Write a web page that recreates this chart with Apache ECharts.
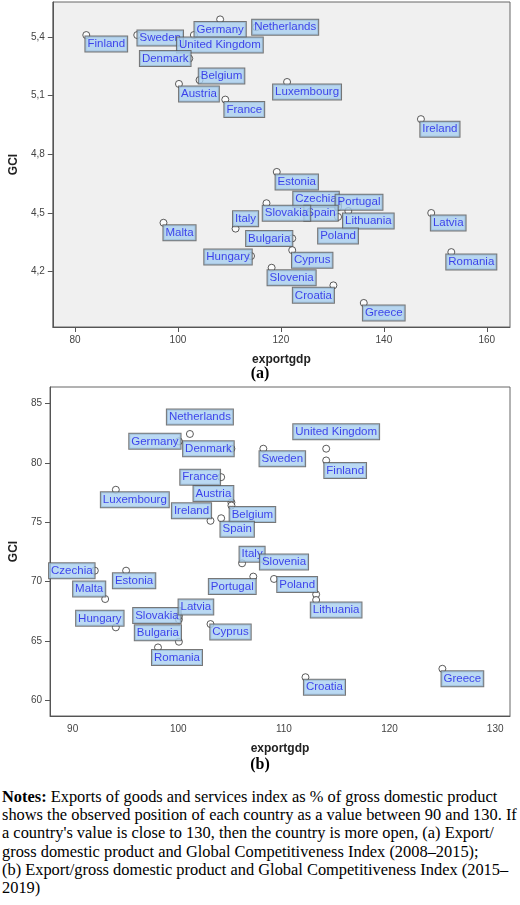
<!DOCTYPE html>
<html><head><meta charset="utf-8">
<script src="https://cdn.jsdelivr.net/npm/echarts@6/dist/echarts.min.js"></script>
<style>body{margin:0;background:#fff}#c{width:520px;height:788px}
#n{font-family:"Liberation Serif","Times New Roman",serif;font-size:16.4px;line-height:18.2px;margin:0 0 0 2px;width:515px;color:#000}</style>
</head><body><div id="c"></div>
<div id="n"><b>Notes:</b> Exports of goods and services index as % of gross domestic product shows the observed position of each country as a value between 90 and 130. If a country's value is close to 130, then the country is more open, (a) Export/ gross domestic product and Global Competitiveness Index (2008–2015);<br>(b) Export/gross domestic product and Global Competitiveness Index (2015–2019)</div>
<script>
const countriesA=["Finland","Sweden","Germany","United Kingdom","Netherlands","Denmark","Belgium","Austria","Luxembourg","France","Ireland","Estonia","Czechia","Portugal","Spain","Slovakia","Lithuania","Latvia","Poland","Malta","Italy","Bulgaria","Cyprus","Hungary","Romania","Slovenia","Croatia","Greece"];
const exportA=[82.2,92.1,108.2,103.1,115.2,102.2,104.2,100.2,121.2,109.2,147.2,119.2,131.1,131.1,131.1,117.2,133.1,149.2,131.1,97.2,111.2,122.2,122.2,114.2,153.1,118.2,130.2,136.1];
const gciA=[5.41,5.41,5.49,5.41,5.45,5.29,5.18,5.16,5.17,5.08,4.98,4.71,4.55,4.54,4.53,4.55,4.51,4.50,4.48,4.45,4.42,4.37,4.31,4.28,4.30,4.22,4.13,4.04];
const offA=[[20,9],[23,3],[0,10],[26,10],[29,0],[-24,0],[22,-4],[20,10],[20,10],[19,10],[19,10],[20,10],[-22,-4],[21,-3],[-17,6],[20,10],[20,10],[17,10],[0,19],[16,10],[10,-10],[-23,0],[20,10],[-23,1],[20,10],[20,10],[-20,10],[20,10]];
const countriesB=["Netherlands","Germany","Denmark","Sweden","United Kingdom","Finland","France","Luxembourg","Austria","Belgium","Ireland","Spain","Italy","Slovenia","Portugal","Poland","Lithuania","Czechia","Estonia","Malta","Hungary","Slovakia","Latvia","Bulgaria","Romania","Cyprus","Croatia","Greece"];
const exportB=[101.1,100.06,105.03,108.05,114.0,114.0,104.06,94.09,105.03,105.03,103.05,104.06,106.04,109.06,107.1,113.05,113.05,92.1,95.06,93.08,94.09,100.06,100.06,100.06,98.08,103.05,112.04,125.0];
const gciB=[82.44,81.82,81.2,81.2,81.2,80.21,78.8,77.74,76.67,76.41,75.12,75.34,71.54,70.22,70.42,68.92,68.45,70.92,70.92,68.53,66.14,66.81,67.09,64.93,64.45,66.42,61.94,62.65];
const offB=[[10,-17],[-24,0],[-23,0],[19,10],[10,-17],[19,10],[-21,0],[19,10],[-18,-9],[21,9],[-19,-10],[16,11],[10,-9],[10,-17],[-21,10],[-19,-10],[20,10],[-23,0],[8,10],[-16,-10],[-16,-9],[-22,-4],[17,-9],[-21,-9],[19,10],[20,8],[19,10],[20,10]];

const lab={show:true,position:'inside',backgroundColor:'#a9cff0',borderColor:'#555',borderWidth:1,color:'#1a1ae8',fontSize:11.5,fontFamily:'Liberation Sans, Arial',padding:[2,2,1,2]};
function pts(c,x,y,o){return c.map((n,i)=>({value:[x[i],y[i]],name:n,label:Object.assign({},lab,{formatter:n,offset:o[i]})}));}
const axName={fontWeight:'bold',fontSize:12,color:'#222',fontFamily:'Liberation Sans, Arial'};
const axLab={fontSize:10,color:'#444',fontFamily:'Liberation Sans, Arial'};
const line={show:true,lineStyle:{color:'#555'}};
const ch=echarts.init(document.getElementById('c'));
ch.setOption({animation:false,
 grid:[{left:39,top:2,width:471,height:325,show:true,backgroundColor:'#f0f0f0',borderColor:'#666',borderWidth:1},
       {left:48,top:387,width:462,height:329,show:true,backgroundColor:'#fff',borderColor:'#666',borderWidth:1}],
 xAxis:[{gridIndex:0,type:'value',min:75.7,max:164.5,interval:20,axisLabel:Object.assign({customValues:[80,100,120,140,160]},axLab),axisTick:{show:true,customValues:[80,100,120,140,160],lineStyle:{color:'#555'}},axisLine:line,splitLine:{show:false},name:'exportgdp',nameLocation:'middle',nameGap:27,nameTextStyle:axName},
        {gridIndex:1,type:'value',min:87.86,max:131.4,axisLabel:Object.assign({customValues:[90,100,110,120,130]},axLab),axisTick:{show:false},axisLine:line,splitLine:{show:false},name:'exportgdp',nameLocation:'middle',nameGap:27,nameTextStyle:axName}],
 yAxis:[{gridIndex:0,type:'value',min:3.917,max:5.579,axisLabel:Object.assign({customValues:[4.2,4.5,4.8,5.1,5.4],formatter:v=>v.toFixed(1).replace('.',',')},axLab),axisTick:{show:true,customValues:[4.2,4.5,4.8,5.1,5.4],lineStyle:{color:'#555'}},axisLine:line,splitLine:{show:false},name:'GCI',nameLocation:'middle',nameGap:24,nameTextStyle:axName},
        {gridIndex:1,type:'value',min:58.67,max:86.4,axisLabel:Object.assign({customValues:[60,65,70,75,80,85]},axLab),axisTick:{show:true,customValues:[60,65,70,75,80,85],lineStyle:{color:'#555'}},axisLine:line,splitLine:{show:false},name:'GCI',nameLocation:'middle',nameGap:30,nameTextStyle:axName}],
 title:[{text:'(a)',left:'center',top:361,textStyle:{fontFamily:'Liberation Serif',fontSize:16,fontWeight:'bold',color:'#000'}},
        {text:'(b)',left:'center',top:752,textStyle:{fontFamily:'Liberation Serif',fontSize:16,fontWeight:'bold',color:'#000'}}],
 series:[{type:'scatter',xAxisIndex:0,yAxisIndex:0,symbol:'circle',symbolSize:7,itemStyle:{color:'#fff',borderColor:'#333',borderWidth:1},data:pts(countriesA,exportA,gciA,offA)},
         {type:'scatter',xAxisIndex:1,yAxisIndex:1,symbol:'circle',symbolSize:7,itemStyle:{color:'#fff',borderColor:'#333',borderWidth:1},data:pts(countriesB,exportB,gciB,offB)}]
});
</script></body></html>
